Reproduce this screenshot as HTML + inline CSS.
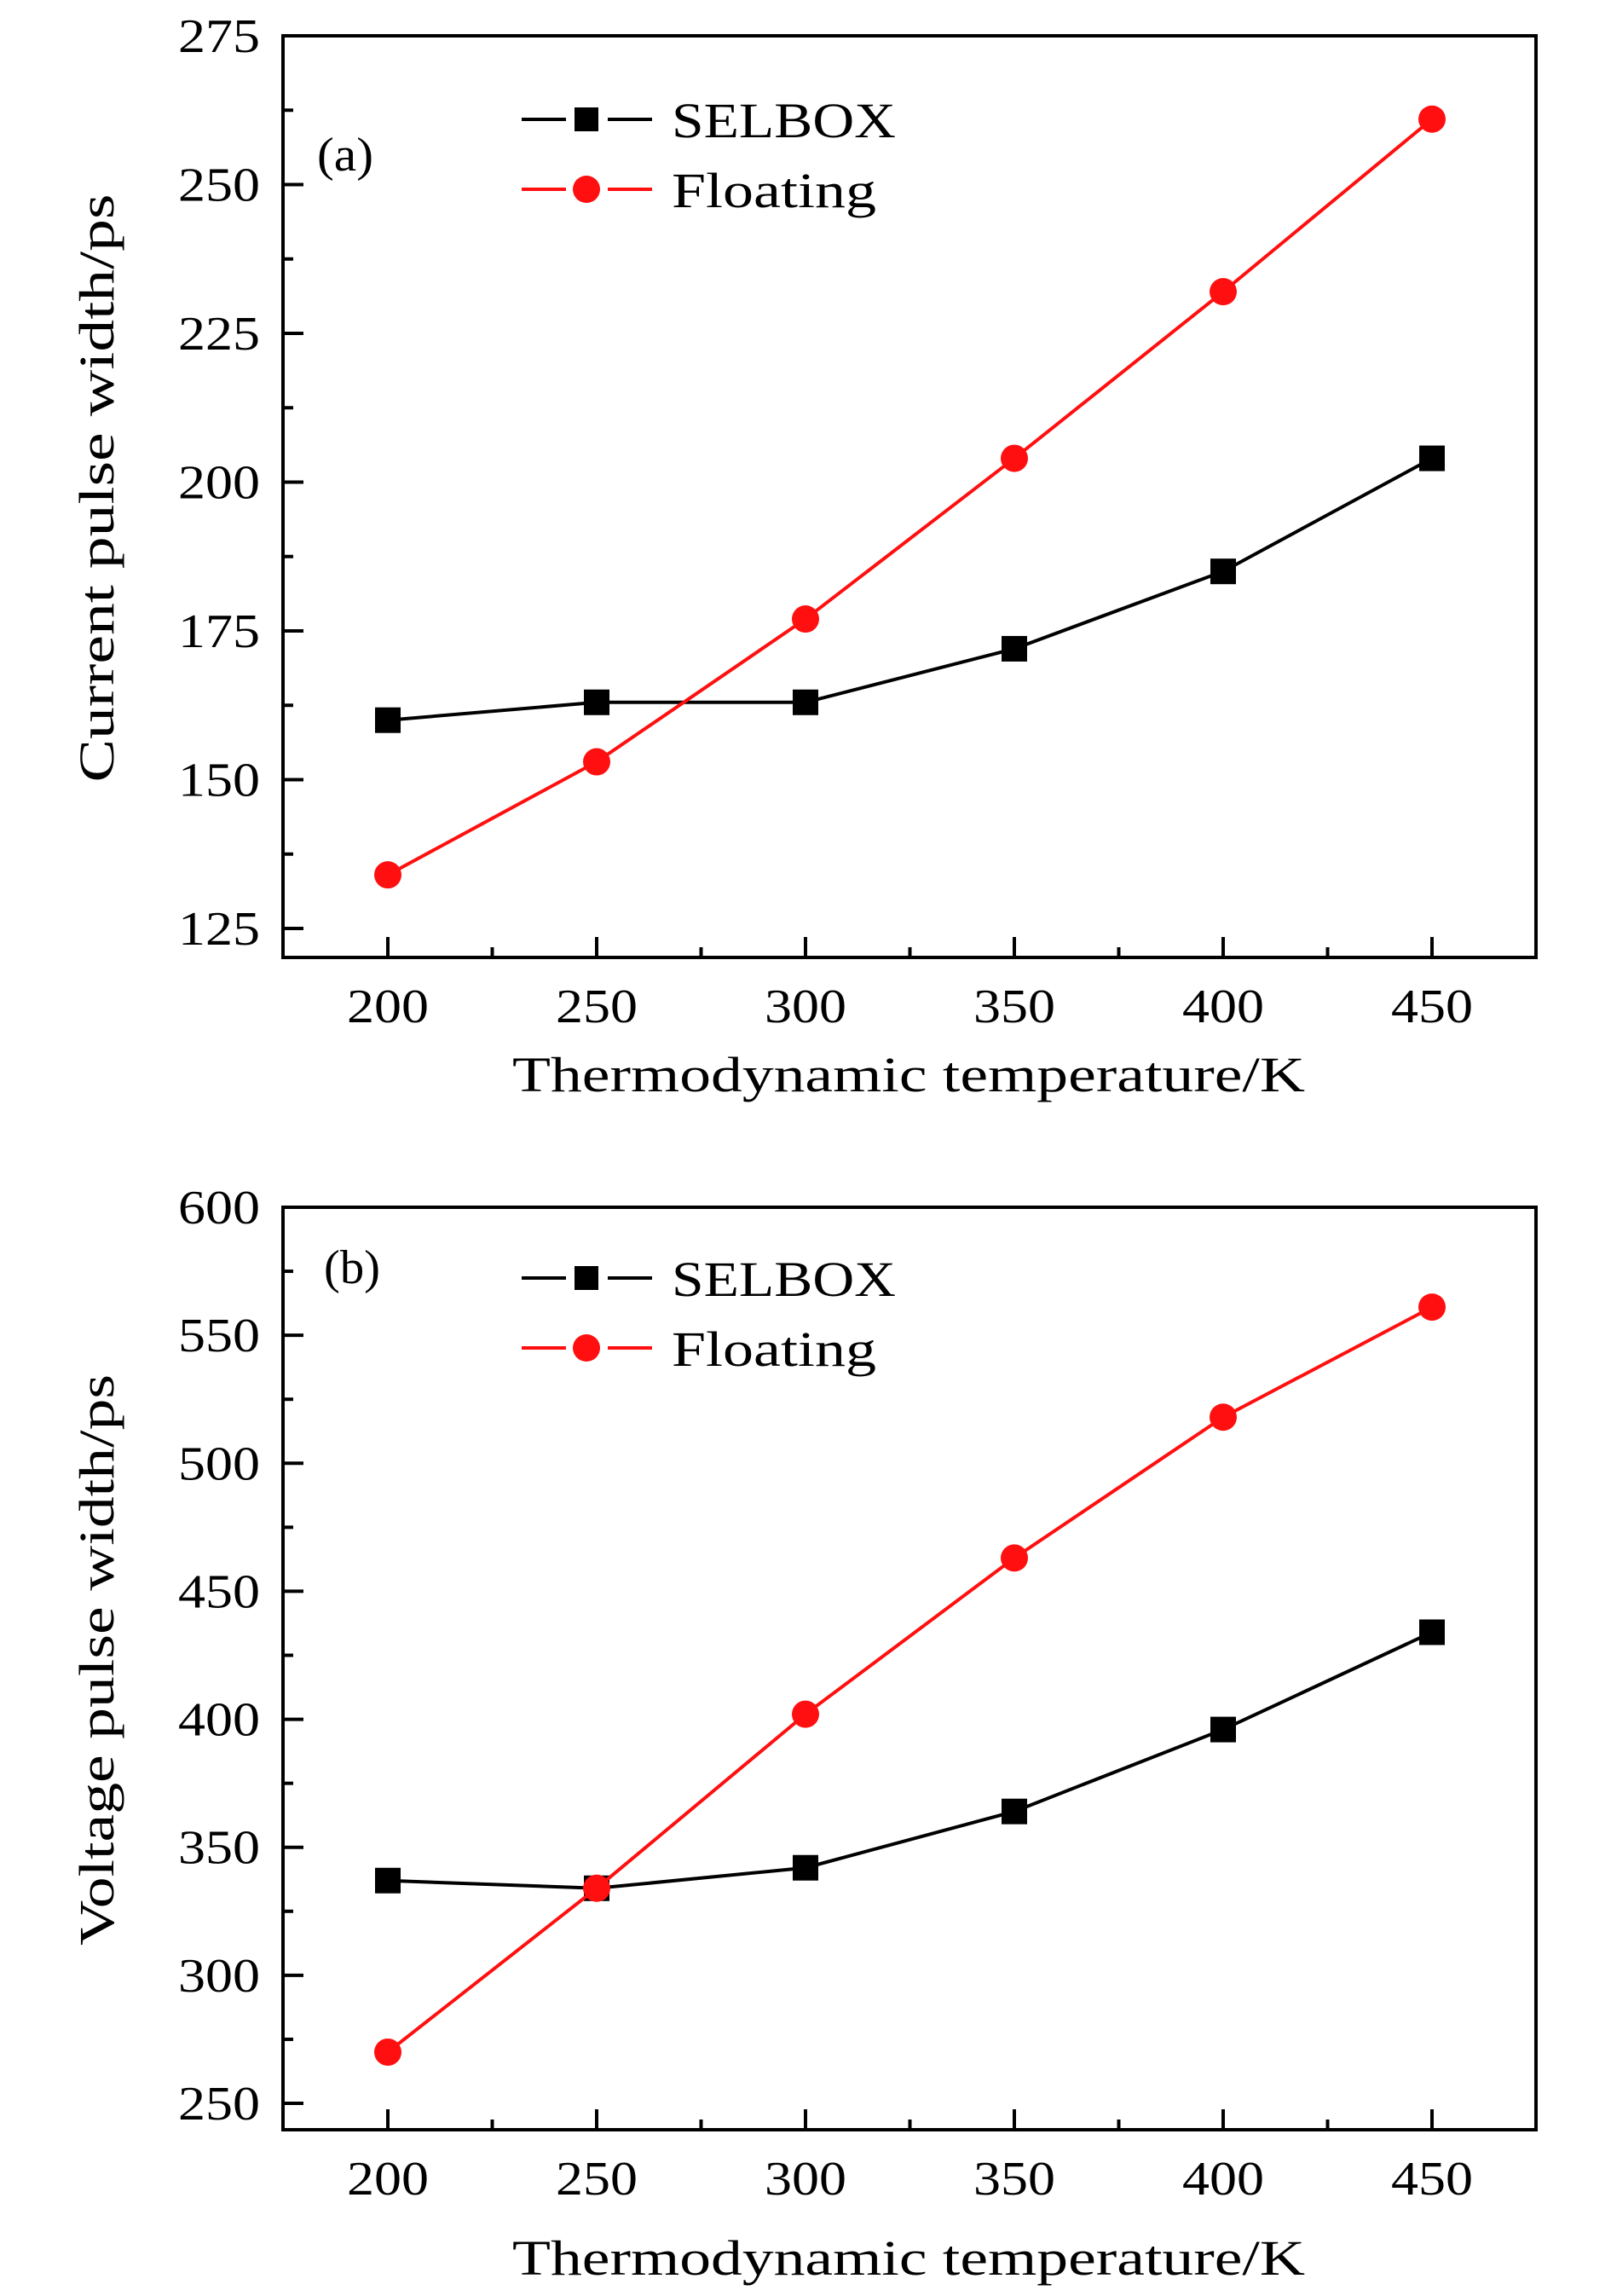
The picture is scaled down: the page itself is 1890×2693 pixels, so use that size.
<!DOCTYPE html>
<html><head><meta charset="utf-8"><style>
html,body{margin:0;padding:0;background:#fff;}
svg{display:block;font-family:"Liberation Serif",serif;}
</style></head><body>
<svg id="fig" width="1890" height="2693" viewBox="0 0 1890 2693" xmlns="http://www.w3.org/2000/svg"></svg>
<script>
const categories = [200, 250, 300, 350, 400, 450];
const xTicks = [200, 250, 300, 350, 400, 450];
const aSelbox = [160, 163, 163, 172, 185, 204];
const aFloating = [134, 153, 177, 204, 232, 261];
const aYTicks = [125, 150, 175, 200, 225, 250, 275];
const bSelbox = [337, 334, 342, 364, 396, 434];
const bFloating = [270, 334, 402, 463, 518, 561];
const bYTicks = [250, 300, 350, 400, 450, 500, 550, 600];

const NS = "http://www.w3.org/2000/svg";
const svg = document.getElementById('fig');
function mk(tag, attrs, parent){
  const e = document.createElementNS(NS, tag);
  for (const k in attrs) e.setAttribute(k, attrs[k]);
  (parent || svg).appendChild(e);
  return e;
}

function panel(cfg){
  const g = mk('g', {});
  
  
  const L = 332, R = 1802, T = cfg.top, B = cfg.bottom;
  const xs = v => 455 + (v - 200) * (1680 - 455) / 250;
  const ys = v => cfg.y0px + (v - cfg.y0) * (cfg.y1px - cfg.y0px) / (cfg.y1 - cfg.y0);
  const frame = mk('rect', {x:L, y:T, width:R-L, height:B-T, fill:'none', stroke:'#000', 'stroke-width':4}, g);
  
  
  for (let i = 0; i < xTicks.length; i++){
    const v = xTicks[i], x = xs(v);
    const t = mk('line', {x1:x, x2:x, y1:B, y2:B-24, stroke:'#000', 'stroke-width':4}, g);
    
    
    if (i < xTicks.length - 1){
      const xm = xs(v + 25);
      const m = mk('line', {x1:xm, x2:xm, y1:B, y2:B-12, stroke:'#000', 'stroke-width':4}, g);
      
      
    }
    const lb = mk('text', {x:x, y:B+76, 'font-size':56, 'text-anchor':'middle', fill:'#000', textLength:96, lengthAdjust:'spacingAndGlyphs'}, g);
    lb.textContent = v;
    
    
  }
  for (let i = 0; i < cfg.yTicks.length; i++){
    const v = cfg.yTicks[i], y = ys(v);
    const t = mk('line', {x1:L, x2:L+24, y1:y, y2:y, stroke:'#000', 'stroke-width':4}, g);
    
    
    if (i < cfg.yTicks.length - 1){
      const ym = ys(v + cfg.step / 2);
      const m = mk('line', {x1:L, x2:L+12, y1:ym, y2:ym, stroke:'#000', 'stroke-width':4}, g);
      
      
    }
    const lb = mk('text', {x:305, y:y+19, 'font-size':56, 'text-anchor':'end', fill:'#000', textLength:96, lengthAdjust:'spacingAndGlyphs'}, g);
    lb.textContent = v;
    
    
  }
  const xt = mk('text', {x:1066, y:cfg.xTitleY, 'font-size':58, 'text-anchor':'middle', fill:'#000', textLength:930, lengthAdjust:'spacingAndGlyphs'}, g);
  xt.textContent = 'Thermodynamic temperature/K';
  
  
  const cy = (T + B) / 2 - 10;
  const yt = mk('text', {x:0, y:0, 'font-size':58, 'text-anchor':'middle', fill:'#000', transform:'translate(133,'+cy+') rotate(-90)', textLength:cfg.yTitleLen, lengthAdjust:'spacingAndGlyphs'}, g);
  yt.textContent = cfg.yTitle;
  
  
  const pl = mk('text', {x:cfg.labelX, y:cfg.labelY, 'font-size':56, fill:'#000', textLength:66, lengthAdjust:'spacingAndGlyphs'}, g);
  pl.textContent = cfg.label;
  
  
  function series(vals, color, shape, name){
    const pts = vals.map((v,i) => xs(categories[i]) + ',' + ys(v)).join(' ');
    const pl2 = mk('polyline', {points:pts, fill:'none', stroke:color, 'stroke-width':4}, g);
    
    
    vals.forEach((v,i) => {
      const x = xs(categories[i]), y = ys(v);
      let m;
      if (shape === 'square') m = mk('rect', {x:x-15, y:y-15, width:30, height:30, fill:color}, g);
      else m = mk('circle', {cx:x, cy:y, r:16, fill:color}, g);
      
      
    });
  }
  series(cfg.selbox, '#000', 'square', 'selbox');
  series(cfg.floating, '#ff0f0f', 'circle', 'floating');
  const lg = mk('g', {}, g);
  
  
  const entries = [['SELBOX','#000','square',263],['Floating','#ff0f0f','circle',240]];
  entries.forEach((e, k) => {
    const y = cfg.legY + k * 82;
    const eg = mk('g', {}, lg);
    
    
    mk('line', {x1:612, x2:664, y1:y, y2:y, stroke:e[1], 'stroke-width':4}, eg);
    mk('line', {x1:713, x2:765, y1:y, y2:y, stroke:e[1], 'stroke-width':4}, eg);
    if (e[2] === 'square') mk('rect', {x:674, y:y-14, width:28, height:28, fill:e[1]}, eg);
    else mk('circle', {cx:688, cy:y, r:16, fill:e[1]}, eg);
    const tx = mk('text', {x:788, y:y+21, 'font-size':58, fill:'#000', textLength:e[3], lengthAdjust:'spacingAndGlyphs'}, eg);
    tx.textContent = e[0];
  });
}

panel({id:'panel-a', top:42, bottom:1123, y0:125, y1:275, y0px:1089, y1px:42, step:25,
  yTicks:aYTicks, selbox:aSelbox, floating:aFloating, xTitleY:1280,
  yTitle:'Current pulse width/ps', yTitleLen:690, label:'(a)', labelX:372, labelY:200, legY:140});
panel({id:'panel-b', top:1416, bottom:2498, y0:250, y1:600, y0px:2467, y1px:1416, step:50,
  yTitle:'Voltage pulse width/ps', yTitleLen:670,
  yTicks:bYTicks, selbox:bSelbox, floating:bFloating, xTitleY:2668,
  label:'(b)', labelX:380, labelY:1505, legY:1499});
</script>
</body></html>
